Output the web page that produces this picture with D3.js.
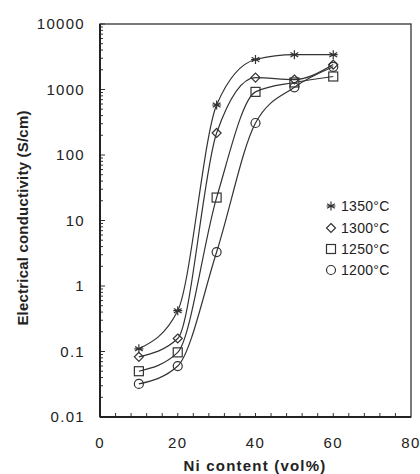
<!DOCTYPE html>
<html><head><meta charset="utf-8">
<script src="https://cdn.jsdelivr.net/npm/d3@7"></script>
<style>body{margin:0;background:#fff}svg{display:block;font-family:Arial,"Liberation Sans",sans-serif}</style>
</head><body><svg id="c" width="420" height="474"></svg>
<script>
const niContent = [10, 20, 30, 40, 50, 60];
const s1350 = [0.11, 0.42, 580, 2870, 3400, 3400];
const s1300 = [0.083, 0.158, 217, 1520, 1420, 2400];
const s1250 = [0.05, 0.097, 22.4, 920, 1280, 1580];
const s1200 = [0.032, 0.060, 3.3, 308, 1080, 2220];
const seriesNames = ["1350°C", "1300°C", "1250°C", "1200°C"];
const seriesMarkers = ["asterisk", "diamond", "square", "circle"];
const yTicks = [0.01, 0.1, 1, 10, 100, 1000, 10000];
const yTickLabels = ["0.01", "0.1", "1", "10", "100", "1000", "10000"];
const xTicks = [0, 20, 40, 60, 80];

const series = [s1350, s1300, s1250, s1200];
const svg = d3.select("#c");
const L = 100, R = 411, T = 24, B = 417;
const x = d3.scaleLinear().domain([0, 80]).range([L, R]);
const y = d3.scaleLog().domain([0.01, 10000]).range([B, T]);
const ink = "#333";

// minor y ticks
const minorY = [];
for (let d = -2; d < 4; d++) for (let k = 2; k <= 9; k++) minorY.push(k * Math.pow(10, d));
svg.append("g").selectAll("line").data(minorY).join("line")
  .attr("x1", L).attr("x2", L + 3).attr("y1", d => y(d)).attr("y2", d => y(d))
  .attr("stroke", ink).attr("stroke-width", 1);
svg.append("g").selectAll("line").data(yTicks).join("line")
  .attr("x1", L).attr("x2", L + 5).attr("y1", d => y(d)).attr("y2", d => y(d))
  .attr("stroke", ink).attr("stroke-width", 1);
// x ticks every 4
const minorX = d3.range(4, 80, 4);
svg.append("g").selectAll("line").data(minorX).join("line")
  .attr("x1", d => x(d)).attr("x2", d => x(d)).attr("y1", B).attr("y2", B - 4)
  .attr("stroke", ink).attr("stroke-width", 1);

// frame
svg.append("rect").attr("x", L).attr("y", T).attr("width", R - L).attr("height", B - T)
  .attr("fill", "none").attr("stroke", ink).attr("stroke-width", 1.3);
svg.append("line").attr("x1", L).attr("x2", L).attr("y1", T).attr("y2", B).attr("stroke", "#222").attr("stroke-width", 2);
svg.append("line").attr("x1", L).attr("x2", R).attr("y1", B).attr("y2", B).attr("stroke", "#222").attr("stroke-width", 2);

// tick labels
svg.append("g").selectAll("text").data(yTicks).join("text")
  .attr("x", 85).attr("y", d => y(d)).attr("dy", "0.36em").attr("text-anchor", "end")
  .attr("font-size", 15).attr("letter-spacing", 1.3).attr("fill", "#222").text((d, i) => yTickLabels[i]);
svg.append("g").selectAll("text").data(xTicks).join("text")
  .attr("x", d => x(d)).attr("y", 448).attr("text-anchor", "middle")
  .attr("font-size", 15).attr("letter-spacing", 1.3).attr("fill", "#222").text(d => d);

// titles
svg.append("text").attr("x", 255).attr("y", 471).attr("text-anchor", "middle")
  .attr("font-size", 15).attr("letter-spacing", 1.2).attr("font-weight", "bold").attr("fill", "#222").text("Ni content (vol%)");
svg.append("text").attr("transform", `translate(28,218) rotate(-90)`).attr("text-anchor", "middle")
  .attr("font-size", 15).attr("letter-spacing", 0.2).attr("font-weight", "bold").attr("fill", "#222").text("Electrical conductivity (S/cm)");

// curves
const line = d3.line().x((d, i) => x(niContent[i])).y(d => y(d)).curve(d3.curveMonotoneX);
const gLines = svg.append("g");
series.forEach(s => gLines.append("path").attr("d", line(s)).attr("fill", "none").attr("stroke", ink).attr("stroke-width", 1.2));

function drawMarker(g, type, cx, cy) {
  const st = { fill: "none", stroke: ink, "stroke-width": 1.2 };
  let el;
  if (type === "circle") el = g.append("circle").attr("cx", cx).attr("cy", cy).attr("r", 4.5);
  else if (type === "square") el = g.append("rect").attr("x", cx - 4.5).attr("y", cy - 4.5).attr("width", 9).attr("height", 9);
  else if (type === "diamond") el = g.append("path").attr("d", `M${cx},${cy - 4.5}L${cx + 4.5},${cy}L${cx},${cy + 4.5}L${cx - 4.5},${cy}Z`);
  else {
    const r = 4.5;
    const d = [0, 60, 120].map(a => {
      const rad = a * Math.PI / 180 + Math.PI / 2;
      return `M${cx + r * Math.cos(rad)},${cy + r * Math.sin(rad)}L${cx - r * Math.cos(rad)},${cy - r * Math.sin(rad)}`;
    }).join("") + `M${cx - r},${cy}L${cx + r},${cy}`;
    el = g.append("path").attr("d", d);
  }
  Object.entries(st).forEach(([k, v]) => el.attr(k, v));
}
const gM = svg.append("g");
series.forEach((s, si) => s.forEach((v, i) => drawMarker(gM, seriesMarkers[si], x(niContent[i]), y(v))));

// legend
const legY = [206, 228, 249, 270];
seriesNames.forEach((n, i) => {
  drawMarker(svg, seriesMarkers[i], 331, legY[i]);
  svg.append("text").attr("x", 341).attr("y", legY[i]).attr("dy", "0.36em")
    .attr("font-size", 14).attr("letter-spacing", 0.3).attr("fill", "#222").text(n);
});
</script></body></html>
